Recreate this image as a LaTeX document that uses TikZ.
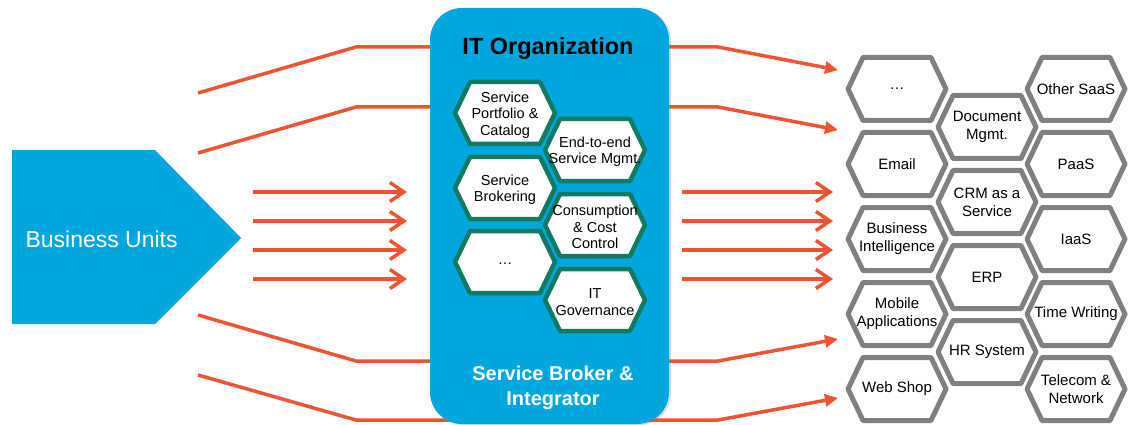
\documentclass[tikz,border=0pt]{standalone}
\usepackage{fontspec}
\setmainfont{Liberation Sans}
\usetikzlibrary{arrows.meta,calc,shadows}
\definecolor{BrokerBlue}{RGB}{0,167,222}
\definecolor{FlowRed}{RGB}{239,83,50}
\definecolor{HexGreen}{RGB}{18,122,98}
\definecolor{HexGray}{RGB}{128,128,128}

\begin{document}
\begin{tikzpicture}[x=1pt,y=-1pt,
    flow/.style={FlowRed,line width=3.5pt},
    orghex/.style={draw=HexGreen,fill=white,line width=4.5pt,line join=round,
      drop shadow={shadow xshift=1pt,shadow yshift=-2pt,opacity=.35}},
    apphex/.style={draw=HexGray,fill=white,line width=5pt,line join=round,
      drop shadow={shadow xshift=1pt,shadow yshift=-2pt,opacity=.35}},
    orgtext/.style={align=center,inner sep=0pt,font=\fontsize{14.5}{16.5}\selectfont},
    apptext/.style={align=center,inner sep=0pt,font=\fontsize{15}{18}\selectfont}]
  \useasboundingbox (0,0) rectangle (1130,425);

  % flows that pass behind the broker
  \foreach \i/\ya/\yb/\yc in {1/93/47/70,2/153/107/130,3/315/361/339,4/375/420/398}{
    \coordinate (src\i) at (198,\ya);
    \coordinate (dst\i) at (838,\yc);
    \draw[flow,-{Triangle[length=13pt,width=12pt]}] (src\i) -- (356,\yb) -- (718,\yb) -- (dst\i);
  }

  % business units
  \fill[BrokerBlue] (12,150) -- (155,150) -- (241,238) -- (155,324) -- (12,324) -- cycle;
  \node[anchor=west,white,font=\fontsize{23}{28}\selectfont] (units) at (22,239) {Business Units};

  % straight flows in and out
  \foreach \y [count=\i] in {192,221,250,279}{
    \coordinate (in\i) at (253,\y);
    \coordinate (inend\i) at (407,\y);
    \coordinate (out\i) at (682,\y);
    \coordinate (outend\i) at (833,\y);
    \draw[flow,-{Straight Barb[length=14pt,width=19pt]}] (in\i) -- (inend\i);
    \draw[flow,-{Straight Barb[length=14pt,width=19pt]}] (out\i) -- (outend\i);
  }

  % IT organization
  \fill[BrokerBlue,rounded corners=32pt,drop shadow={shadow xshift=2pt,shadow yshift=-1pt,opacity=.3}]
    (430,8) rectangle (669,424);
  \node[font=\bfseries\fontsize{23.5}{28}\selectfont] (itorg) at (548,48) {IT Organization};
  \node[white,align=center,font=\bfseries\fontsize{20}{25}\selectfont] (broker) at (553,388)
    {Service Broker \&\\Integrator};

  \foreach \nm/\cx/\cy/\txt in {
      portfolio/505/113/{Service\\Portfolio \&\\Catalog},
      brokering/505/188/{Service\\Brokering},
      orgmore/505/262/{\ldots},
      endtoend/595/150/{End-to-end\\Service Mgmt.},
      consumption/595/225/{Consumption\\\& Cost\\Control},
      governance/595/300/{IT\\Governance}}{
    \draw[orghex] (\cx-50,\cy) -- ++(15,-31) -- ++(70,0) -- ++(15,31) -- ++(-15,31) -- ++(-70,0) -- cycle;
    \node[orgtext] (\nm) at (\cx,\cy+2) {\txt};
  }

  % services
  \foreach \nm/\cx/\cy/\txt in {
      appmore/897/89/{\ldots},
      othersaas/1076/89/{Other SaaS},
      docmgmt/987/127/{Document\\Mgmt.},
      email/897/164/{Email},
      paas/1076/164/{PaaS},
      crm/987/202/{CRM as a\\Service},
      bi/897/239/{Business\\Intelligence},
      iaas/1076/239/{IaaS},
      erp/987/277/{ERP},
      mobile/897/314/{Mobile\\Applications},
      timewriting/1076/314/{Time Writing},
      hr/987/352/{HR System},
      webshop/897/389/{Web Shop},
      telecom/1076/389/{Telecom \&\\Network}}{
    \draw[apphex] (\cx-49,\cy) -- ++(15,-31.5) -- ++(68,0) -- ++(15,31.5) -- ++(-15,31.5) -- ++(-68,0) -- cycle;
    \node[apptext] (\nm) at (\cx,\cy) {\txt};
  }
\end{tikzpicture}
\end{document}
